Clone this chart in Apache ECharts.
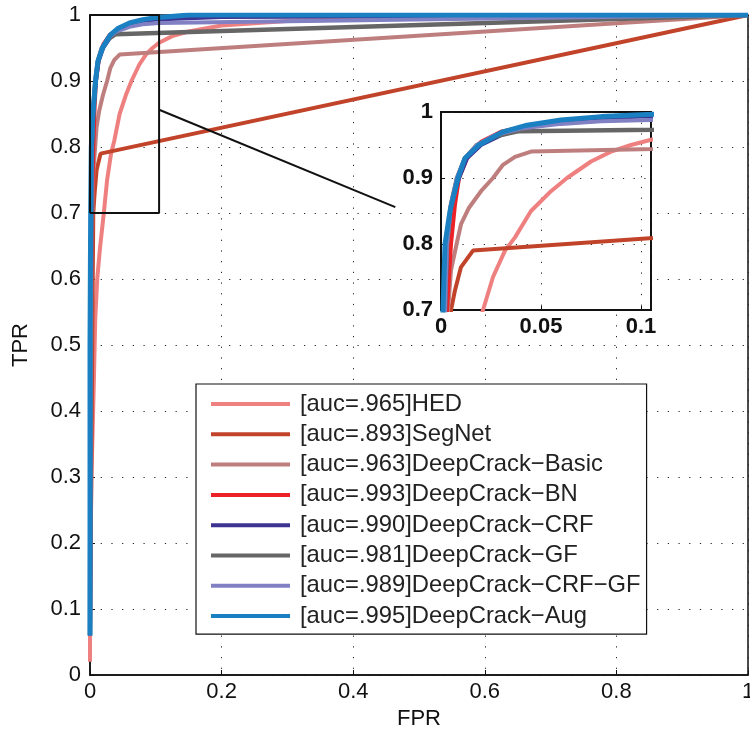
<!DOCTYPE html>
<html>
<head>
<meta charset="utf-8">
<script src="https://cdn.jsdelivr.net/npm/echarts@6/dist/echarts.min.js"></script>
<style>
  html, body { margin: 0; padding: 0; background: #fff; }
  #chart { width: 750px; height: 737px; }
</style>
</head>
<body>
<div id="chart"></div>
<script>
var font = '"Liberation Sans", Arial, sans-serif';

// ROC curves as [FPR, TPR] pairs
var hed = [[0, 0.02], [0, 0.06], [0.001, 0.21], [0.002, 0.3], [0.004, 0.37], [0.006, 0.45], [0.008, 0.54],
  [0.011, 0.6], [0.015, 0.645], [0.021, 0.7], [0.026, 0.75], [0.032, 0.79], [0.037, 0.81], [0.045, 0.85],
  [0.055, 0.88], [0.063, 0.9], [0.075, 0.925], [0.085, 0.94], [0.095, 0.95], [0.105, 0.958], [0.125, 0.968],
  [0.15, 0.975], [0.2, 0.984], [0.3, 0.991], [0.5, 0.996], [1, 1]];
var segnet = [[0, 0.06], [0.002, 0.3], [0.004, 0.58], [0.005, 0.7], [0.007, 0.73], [0.01, 0.765],
  [0.016, 0.79], [1, 1]];
var basic = [[0, 0.06], [0.001, 0.3], [0.002, 0.6], [0.0035, 0.7], [0.005, 0.76], [0.0078, 0.8],
  [0.01, 0.83], [0.014, 0.855], [0.02, 0.88], [0.026, 0.9], [0.031, 0.92], [0.037, 0.932], [0.045, 0.94], [1, 1]];
var bn = [[0, 0.06], [0.001, 0.5], [0.003, 0.7], [0.005, 0.8], [0.007, 0.86], [0.009, 0.9], [0.013, 0.93],
  [0.02, 0.955], [0.03, 0.97], [0.045, 0.98], [0.07, 0.99], [0.1, 0.995], [0.2, 0.998], [1, 1]];
var crf = [[0, 0.06], [0.001, 0.5], [0.002, 0.7], [0.003, 0.8], [0.005, 0.86], [0.009, 0.9], [0.013, 0.93],
  [0.02, 0.95], [0.03, 0.965], [0.045, 0.978], [0.06, 0.985], [0.08, 0.99], [0.1, 0.993], [0.2, 0.997], [1, 1]];
var gf = [[0, 0.06], [0.001, 0.5], [0.002, 0.7], [0.003, 0.8], [0.005, 0.86], [0.008, 0.9], [0.012, 0.93],
  [0.018, 0.95], [0.027, 0.963], [0.039, 0.971], [1, 1]];
var crfgf = [[0, 0.06], [0.001, 0.5], [0.002, 0.7], [0.003, 0.8], [0.005, 0.86], [0.008, 0.9], [0.012, 0.93],
  [0.018, 0.95], [0.027, 0.965], [0.04, 0.975], [0.06, 0.982], [0.08, 0.986], [0.105, 0.988], [1, 1]];
var aug = [[0, 0.06], [0, 0.5], [0.001, 0.7], [0.002, 0.8], [0.0045, 0.85], [0.0085, 0.9], [0.012, 0.93],
  [0.019, 0.95], [0.025, 0.96], [0.031, 0.97], [0.043, 0.98], [0.06, 0.988], [0.08, 0.993], [0.1, 0.996],
  [0.15, 1], [1, 1]];

var names = ['[auc=.965]HED', '[auc=.893]SegNet', '[auc=.963]DeepCrack\u2212Basic', '[auc=.993]DeepCrack\u2212BN',
  '[auc=.990]DeepCrack\u2212CRF', '[auc=.981]DeepCrack\u2212GF', '[auc=.989]DeepCrack\u2212CRF\u2212GF',
  '[auc=.995]DeepCrack\u2212Aug'];
var curves = [hed, segnet, basic, bn, crf, gf, crfgf, aug];
var colors = ['#EF8080', '#C1432A', '#BE7E7E', '#EC2226', '#3D3392', '#666666', '#8080C2', '#1B80C2'];
var widths = [4, 4, 4, 4, 4, 4.5, 4, 5];

// zoom box and connector on the main axes
var zoomBox = [[0, 0.7], [0.105, 0.7], [0.105, 1], [0, 1], [0, 0.7]];
var connector = [[0.106, 0.856], [0.464, 0.709]];

var mainTicks = 0.2, mainTicksY = 0.1;

var chart = echarts.init(document.getElementById('chart'), null, {renderer: 'canvas'});

var series = [];
curves.forEach(function (d, i) {
  series.push({
    type: 'line', name: names[i], data: d, xAxisIndex: 0, yAxisIndex: 0,
    showSymbol: false, symbol: 'none', z: 2,
    lineStyle: {color: colors[i], width: widths[i]}, itemStyle: {color: colors[i]}
  });
});
series.push({
  type: 'line', data: zoomBox, xAxisIndex: 0, yAxisIndex: 0, showSymbol: false, symbol: 'none', z: 3,
  lineStyle: {color: '#111', width: 2}, silent: true
});
series.push({
  type: 'line', data: connector, xAxisIndex: 0, yAxisIndex: 0, showSymbol: false, symbol: 'none', z: 3,
  lineStyle: {color: '#111', width: 2}, silent: true
});
curves.forEach(function (d, i) {
  series.push({
    type: 'line', name: names[i], data: d, xAxisIndex: 1, yAxisIndex: 1,
    showSymbol: false, symbol: 'none', z: 12, clip: true,
    lineStyle: {color: colors[i], width: widths[i]}, itemStyle: {color: colors[i]}
  });
});

var dotted = {show: true, lineStyle: {color: '#222', width: 1, type: [1.2, 9.5]}};
var labelMain = {color: '#111', fontSize: 22, fontFamily: font};
var labelInset = {color: '#111', fontSize: 22, fontFamily: font, fontWeight: 'bold'};

var option = {
  animation: false,
  backgroundColor: '#fff',
  grid: [
    {left: 90, right: 2, top: 15, bottom: 62, show: true, borderColor: '#111', borderWidth: 1.5, z: 0,
      containLabel: false, outerBoundsMode: 'none'},
    {left: 441, top: 112, width: 210, height: 198, show: true, backgroundColor: '#fff',
      borderColor: '#111', borderWidth: 2, z: 10, containLabel: false, outerBoundsMode: 'none'}
  ],
  xAxis: [
    {type: 'value', gridIndex: 0, min: 0, max: 1, interval: mainTicks,
      name: 'FPR', nameLocation: 'middle', nameGap: 32,
      nameTextStyle: {color: '#111', fontSize: 22, fontFamily: font},
      axisLine: {lineStyle: {color: '#111', width: 1.5}},
      axisTick: {inside: true, length: 5, lineStyle: {color: '#111'}},
      axisLabel: Object.assign({margin: 6}, labelMain),
      splitLine: dotted},
    {type: 'value', gridIndex: 1, min: 0, max: 0.105, interval: 0.05, z: 11,
      axisLine: {lineStyle: {color: '#111', width: 2}},
      axisTick: {inside: true, length: 4, lineStyle: {color: '#111'}},
      axisLabel: Object.assign({margin: 6, showMaxLabel: false}, labelInset),
      splitLine: dotted}
  ],
  yAxis: [
    {type: 'value', gridIndex: 0, min: 0, max: 1, interval: mainTicksY,
      name: 'TPR', nameLocation: 'middle', nameGap: 58, nameRotate: 90,
      nameTextStyle: {color: '#111', fontSize: 22, fontFamily: font},
      axisLine: {lineStyle: {color: '#111', width: 1.5}},
      axisTick: {inside: true, length: 5, lineStyle: {color: '#111'}},
      axisLabel: Object.assign({margin: 9}, labelMain),
      splitLine: dotted},
    {type: 'value', gridIndex: 1, min: 0.7, max: 1, interval: 0.1, z: 11,
      axisLine: {lineStyle: {color: '#111', width: 2}},
      axisTick: {inside: true, length: 4, lineStyle: {color: '#111'}},
      axisLabel: Object.assign({margin: 8}, labelInset),
      splitLine: dotted}
  ],
  legend: {
    data: names,
    orient: 'vertical',
    left: 196, top: 384,
    padding: [8, 6, 6, 15],
    itemWidth: 79, itemHeight: 4, itemGap: 6.3,
    icon: 'rect',
    backgroundColor: '#fff', borderColor: '#111', borderWidth: 1.2,
    textStyle: {color: '#222', fontSize: 23.8, fontFamily: font, lineHeight: 24, padding: [0, 0, 0, 5]},
    z: 20
  },
  series: series
};
chart.setOption(option);
</script>
</body>
</html>
